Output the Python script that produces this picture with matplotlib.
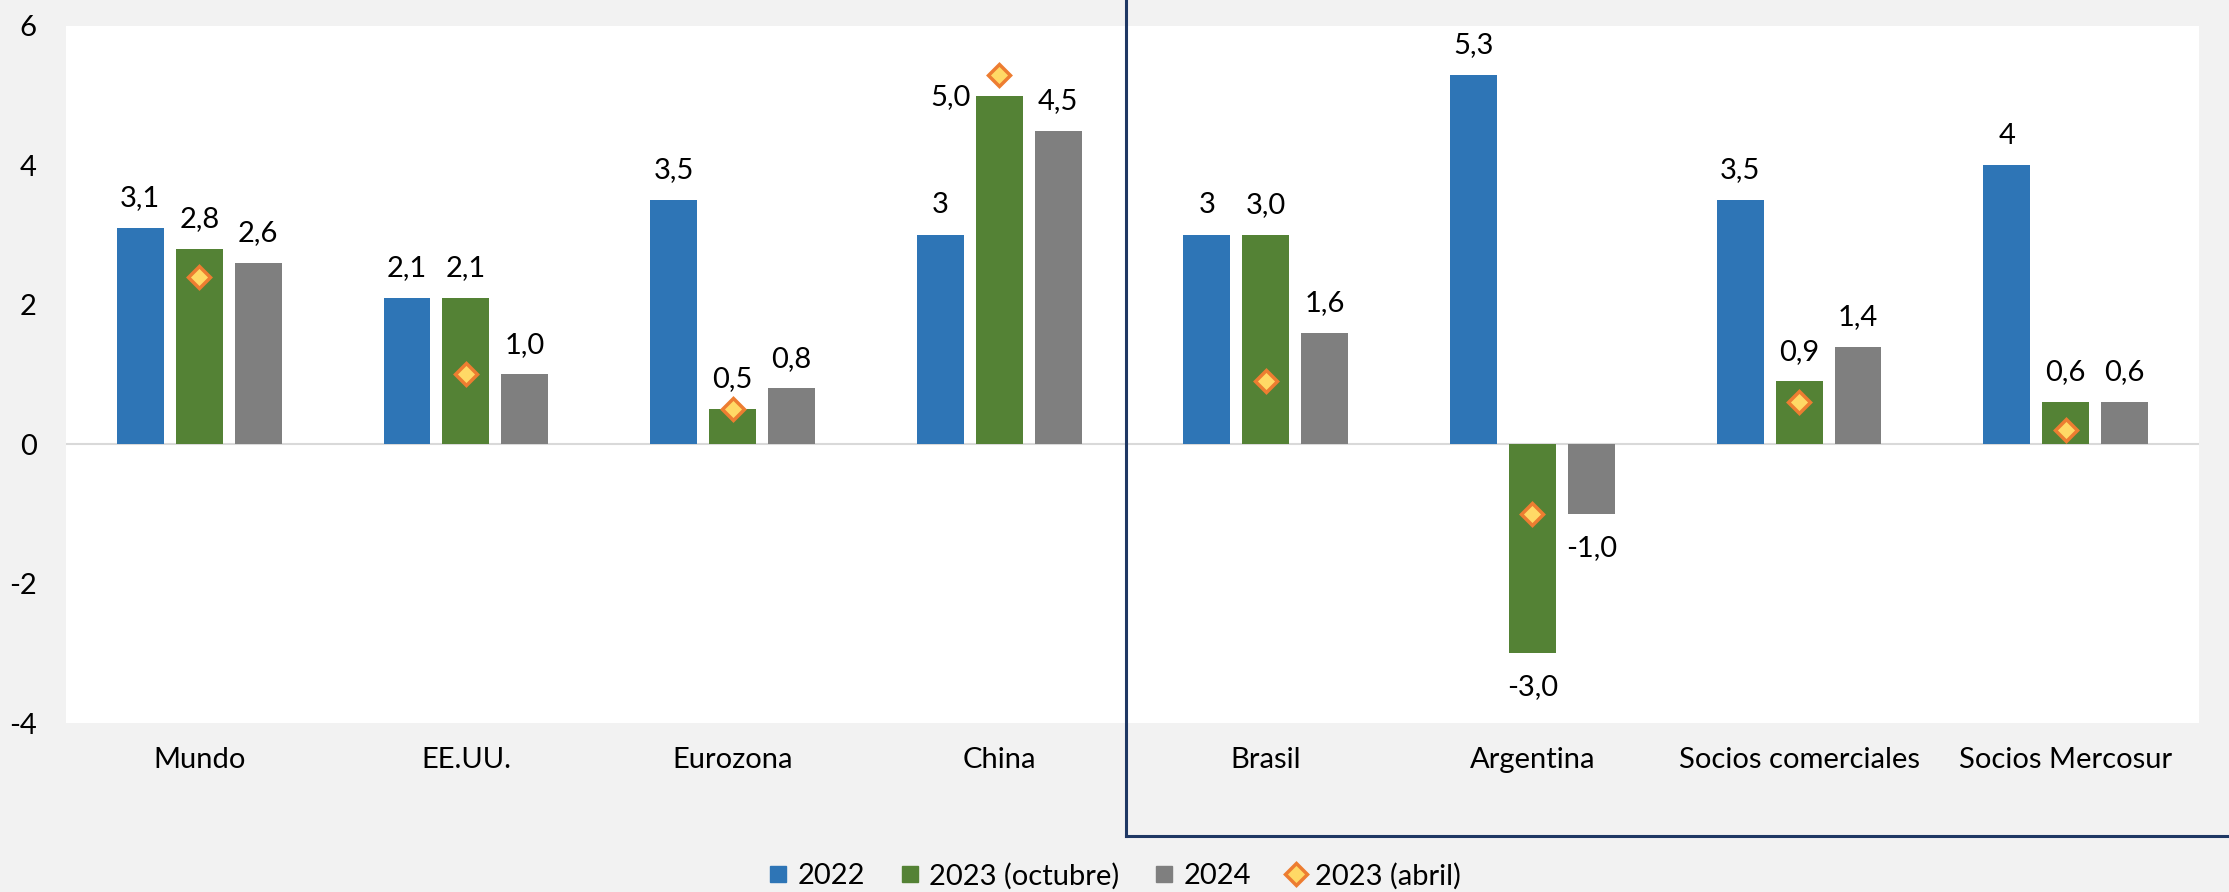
import numpy as np
import matplotlib.pyplot as plt
from matplotlib.lines import Line2D

plt.rcParams['font.family'] = ['Lato', 'DejaVu Sans']

categories = ["Mundo", "EE.UU.", "Eurozona", "China", "Brasil", "Argentina",
              "Socios comerciales", "Socios Mercosur"]
y2022 = [3.1, 2.1, 3.5, 3.0, 3.0, 5.3, 3.5, 4.0]
labels_2022 = ["3,1", "2,1", "3,5", "3", "3", "5,3", "3,5", "4"]
y2023_oct = [2.8, 2.1, 0.5, 5.0, 3.0, -3.0, 0.9, 0.6]
y2024 = [2.6, 1.0, 0.8, 4.5, 1.6, -1.0, 1.4, 0.6]
y2023_abr = [2.4, 1.0, 0.5, 5.3, 0.9, -1.0, 0.6, 0.2]
yticks = [-4, -2, 0, 2, 4, 6]

BLUE = "#2E75B6"
GREEN = "#548235"
GRAY = "#7F7F7F"
FS = 21

W, H = 2229, 892
fig = plt.figure(figsize=(W / 100, H / 100), dpi=100)
fig.patch.set_facecolor("#F2F2F2")
ax = fig.add_axes([66 / W, 1 - 723 / H, (2199 - 66) / W, (723 - 26) / H])
ax.set_facecolor("white")

x = np.arange(len(categories))
step = 0.221
bw = 0.176


def fmt(v):
    return ("%.1f" % v).replace(".", ",")


def label_bars(xs, vals, texts, skip=()):
    for i, (xi, v, t) in enumerate(zip(xs, vals, texts)):
        if i in skip:
            continue
        off = 21.5 if v >= 0 else -24.5
        ax.annotate(t, (xi, v), xytext=(0, off), textcoords="offset points",
                    ha="center", va="center", fontsize=FS)


ax.bar(x - step, y2022, bw, color=BLUE, zorder=2)
ax.bar(x, y2023_oct, bw, color=GREEN, zorder=2)
ax.bar(x + step, y2024, bw, color=GRAY, zorder=2)

label_bars(x - step, y2022, labels_2022)
label_bars(x, y2023_oct, [fmt(v) for v in y2023_oct], skip=(3,))
label_bars(x + step, y2024, [fmt(v) for v in y2024])
# China 2023 label sits to the left of its bar (marker is above)
ax.annotate(fmt(y2023_oct[3]), (x[3], y2023_oct[3]), xytext=(-35, -1),
            textcoords="offset points", ha="center", va="center", fontsize=FS)

ax.plot(x, y2023_abr, linestyle="none", marker="D", markersize=11,
        markerfacecolor="#FFD966", markeredgecolor="#ED7D31",
        markeredgewidth=2.5, zorder=4)

ax.axhline(0, color="#D9D9D9", lw=1.5, zorder=1)

ax.set_xlim(-0.5, len(categories) - 0.5)
ax.set_ylim(-4, 6)
ax.set_yticks(yticks)
ax.set_yticklabels([str(t) for t in yticks], fontsize=FS)
ax.set_xticks(x)
ax.set_xticklabels(categories, fontsize=FS)
ax.tick_params(axis="y", length=0, pad=21)
ax.tick_params(axis="x", length=0, pad=17)
for s in ax.spines.values():
    s.set_visible(False)

# box around the Brasil / Argentina / Socios group
bx = 1125.5 / W
by = 1 - 836 / H
fig.add_artist(Line2D([bx, bx], [by, 1.01], transform=fig.transFigure,
                      color="#1F3864", lw=2.2))
fig.add_artist(Line2D([bx, 1.01], [by, by], transform=fig.transFigure,
                      color="#1F3864", lw=2.2))

handles = [
    Line2D([], [], linestyle="none", marker="s", markersize=12, color=BLUE),
    Line2D([], [], linestyle="none", marker="s", markersize=12, color=GREEN),
    Line2D([], [], linestyle="none", marker="s", markersize=12, color=GRAY),
    Line2D([], [], linestyle="none", marker="D", markersize=11,
           markerfacecolor="#FFD966", markeredgecolor="#ED7D31",
           markeredgewidth=2.5),
]
fig.legend(handles, ["2022", "2023 (octubre)", "2024", "2023 (abril)"],
           loc="center", bbox_to_anchor=(0.5, 1 - 876 / H), ncol=4,
           frameon=False, fontsize=FS, handlelength=0.7, handletextpad=0.3,
           columnspacing=1.2)

fig.savefig("out.png", dpi=100, facecolor=fig.get_facecolor())
